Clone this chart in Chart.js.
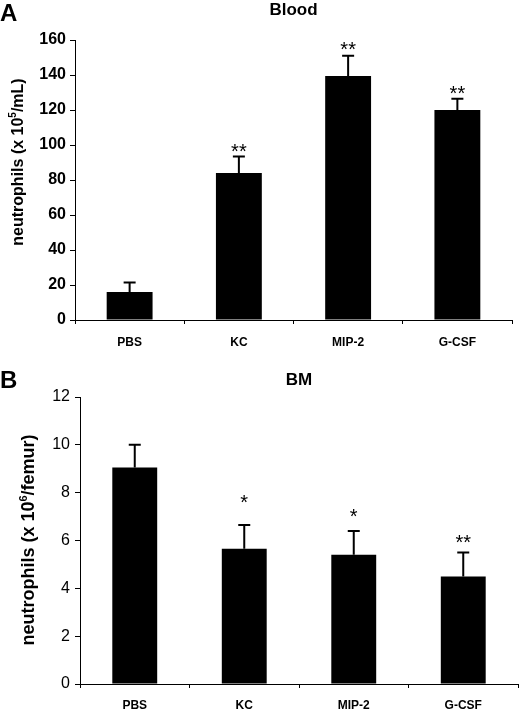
<!DOCTYPE html>
<html><head><meta charset="utf-8">
<script src="https://cdn.jsdelivr.net/npm/chart.js@4.4.0/dist/chart.umd.min.js"></script>
<style>
html,body{margin:0;padding:0;background:#fff;}
#wrap{position:relative;width:520px;height:713px;background:#fff;}
.p{position:absolute;left:0;width:520px;}
</style></head><body>
<div id="wrap">
<div class="p" style="top:0;height:352px"><canvas id="c1"></canvas></div>
<div class="p" style="top:352px;height:361px"><canvas id="c2"></canvas></div>
</div>
<script>
const categories = ['PBS', 'KC', 'MIP-2', 'G-CSF'];

const bloodMean = [16, 84, 139.5, 120];
const bloodSem = [5.5, 9.5, 11.5, 6.5];
const bloodSig = ['', '**', '**', '**'];
const bloodSigAt = [null, 99.6, 157.7, 132.4];
const bloodTicks = [0, 20, 40, 60, 80, 100, 120, 140, 160];

const bmMean = [9.05, 5.65, 5.4, 4.5];
const bmSem = [0.95, 1.0, 1.0, 1.0];
const bmSig = ['', '*', '*', '**'];
const bmSigAt = [null, 7.82, 7.24, 6.13];
const bmTicks = [0, 2, 4, 6, 8, 10, 12];

const FONT = '"Liberation Sans", Arial, Helvetica, sans-serif';

function drawRich(ctx, parts, cx, cy, size) {
  let total = 0;
  const widths = parts.map(([t, sup]) => {
    ctx.font = 'bold ' + (sup ? Math.round(size * 0.62) : size) + 'px ' + FONT;
    const w = ctx.measureText(t).width; total += w; return w;
  });
  let x = cx - total / 2;
  ctx.textAlign = 'left';
  ctx.textBaseline = 'alphabetic';
  parts.forEach(([t, sup], i) => {
    ctx.font = 'bold ' + (sup ? Math.round(size * 0.62) : size) + 'px ' + FONT;
    ctx.fillText(t, x, cy + size * 0.36 - (sup ? size * 0.42 : 0));
    x += widths[i];
  });
}

function overlay(cfg) {
  return {
    id: 'overlay',
    afterDatasetsDraw(chart) {
      const ctx = chart.ctx, ys = chart.scales.y, meta = chart.getDatasetMeta(0);
      ctx.save();
      ctx.strokeStyle = '#000';
      ctx.fillStyle = '#000';
      ctx.lineWidth = 2;
      meta.data.forEach((bar, i) => {
        const x = bar.x, top = bar.y;
        const e = ys.getPixelForValue(cfg.means[i] + cfg.sems[i]);
        ctx.beginPath();
        ctx.moveTo(x, top); ctx.lineTo(x, e);
        ctx.moveTo(x - 6, e); ctx.lineTo(x + 6, e);
        ctx.stroke();
        if (cfg.sigs[i]) {
          ctx.font = cfg.sigSize + 'px ' + FONT;
          ctx.textAlign = 'center';
          ctx.textBaseline = 'alphabetic';
          ctx.fillText(cfg.sigs[i], x, ys.getPixelForValue(cfg.sigAt[i]) + cfg.sigSize * 0.6);
        }
      });
      ctx.font = 'bold 24px ' + FONT;
      ctx.textAlign = 'left';
      ctx.textBaseline = 'middle';
      ctx.fillText(cfg.letter, 0, cfg.letterY);
      ctx.translate(cfg.titleX, cfg.titleY);
      ctx.rotate(-Math.PI / 2);
      drawRich(ctx, cfg.titleParts, 0, 0, cfg.titleSize);
      ctx.restore();
    }
  };
}

function makeChart(el, o) {
  return new Chart(document.getElementById(el), {
    type: 'bar',
    data: {
      labels: categories,
      datasets: [{
        data: o.means,
        backgroundColor: '#000',
        borderWidth: 0,
        categoryPercentage: 1,
        barPercentage: o.barPct
      }]
    },
    options: {
      responsive: true,
      maintainAspectRatio: false,
      animation: false,
      layout: { padding: { left: 0, right: o.padRight, top: 0, bottom: 0 } },
      plugins: {
        legend: { display: false },
        tooltip: { enabled: false },
        title: {
          display: true,
          text: o.title,
          fullSize: false,
          color: '#000',
          font: { family: FONT, size: 17, weight: 'bold', lineHeight: 1.2 },
          padding: { top: o.titlePadTop, bottom: o.titlePadBottom }
        }
      },
      scales: {
        x: {
          afterFit(s) { s.height = o.xHeight; },
          grid: { display: true, drawOnChartArea: false, drawTicks: true, tickLength: 4, color: '#000', offset: true },
          border: { display: true, color: '#000', width: 1 },
          ticks: { color: '#000', padding: o.xPad, font: { family: FONT, size: 12, weight: 'bold' }, maxRotation: 0 }
        },
        y: {
          min: 0, max: o.max,
          afterFit(s) { s.width = o.yWidth; },
          afterBuildTicks(s) { s.ticks = o.ticks.map(v => ({ value: v })); },
          grid: { display: true, drawOnChartArea: false, drawTicks: true, tickLength: 5, color: '#000' },
          border: { display: true, color: '#000', width: 1 },
          ticks: { color: '#000', padding: o.yPad, font: { family: FONT, size: o.yFont, weight: o.yWeight } }
        }
      }
    },
    plugins: [overlay({
      means: o.means, sems: o.sems, sigs: o.sigs, sigAt: o.sigAt, sigSize: 20,
      letter: o.letter, letterY: o.letterY,
      titleX: o.titleX, titleY: o.titleY, titleSize: o.titleSize, titleParts: o.titleParts
    })]
  });
}

makeChart('c1', {
  means: bloodMean, sems: bloodSem, sigs: bloodSig, sigAt: bloodSigAt, ticks: bloodTicks,
  max: 160, barPct: 0.42, padRight: 8, title: 'Blood', titlePadTop: 0, titlePadBottom: 19.6,
  xHeight: 32, xPad: 11, yWidth: 75, yPad: 4, yFont: 16, yWeight: 'bold',
  letter: 'A', letterY: 14, titleX: 17, titleY: 162, titleSize: 16,
  titleParts: [['neutrophils (x 10', false], ['5', true], ['/mL)', false]]
});

makeChart('c2', {
  means: bmMean, sems: bmSem, sigs: bmSig, sigAt: bmSigAt, ticks: bmTicks,
  max: 12, barPct: 0.41, padRight: 2, title: 'BM', titlePadTop: 18.5, titlePadBottom: 6.1,
  xHeight: 29, xPad: 10.5, yWidth: 80, yPad: 5, yFont: 16, yWeight: 'normal',
  letter: 'B', letterY: 29, titleX: 28, titleY: 188, titleSize: 18,
  titleParts: [['neutrophils (x 10', false], ['6', true], ['/femur)', false]]
});
</script>
</body></html>
